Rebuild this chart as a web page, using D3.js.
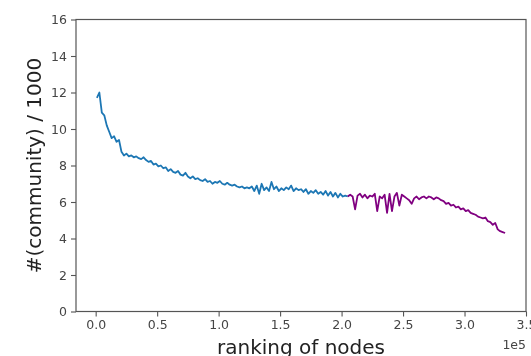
<!DOCTYPE html>
<html>
<head>
<meta charset="utf-8">
<script src="https://cdn.jsdelivr.net/npm/d3@7"></script>
<style>
  body { margin: 0; background: #fff; }
  svg { display: block; font-family: "DejaVu Sans", sans-serif; }
</style>
</head>
<body>
<div class="chart"></div>
<script>
// ranking of nodes, sampled every 2000
const rankStep = 2000;
const blueStart = 1000;
const purpleStart = 205000;

// #(community)/1000, top-ranked part
const blueValues = [
  11.7, 12.0, 10.9, 10.75, 10.2, 9.85, 9.5, 9.6, 9.3, 9.4,
  8.75, 8.55, 8.65, 8.5, 8.55, 8.45, 8.5, 8.4, 8.35, 8.45,
  8.3, 8.2, 8.25, 8.05, 8.1, 7.95, 8.0, 7.85, 7.9, 7.7,
  7.8, 7.65, 7.6, 7.7, 7.5, 7.45, 7.6, 7.4, 7.3, 7.4,
  7.25, 7.3, 7.2, 7.15, 7.25, 7.1, 7.15, 7.0, 7.1, 7.05,
  7.15, 7.0, 6.95, 7.05, 6.95, 6.9, 6.95, 6.85, 6.8, 6.85,
  6.75, 6.8, 6.75, 6.85, 6.6, 6.9, 6.45, 7.0, 6.65, 6.8,
  6.6, 7.1, 6.7, 6.85, 6.6, 6.75, 6.65, 6.8, 6.7, 6.9,
  6.6, 6.75, 6.65, 6.7, 6.55, 6.7, 6.45, 6.6, 6.5, 6.65,
  6.45, 6.55, 6.4, 6.6, 6.35, 6.55, 6.3, 6.5, 6.25, 6.45,
  6.3, 6.35, 6.3
];

// tail part
const purpleValues = [
  6.3, 6.4, 6.3, 5.6, 6.35, 6.45, 6.25, 6.4, 6.2, 6.35,
  6.3, 6.45, 5.5, 6.3, 6.2, 6.4, 5.4, 6.45, 5.5, 6.3,
  6.5, 5.8, 6.4, 6.3, 6.2, 6.1, 5.9, 6.2, 6.3, 6.15,
  6.25, 6.3, 6.2, 6.3, 6.25, 6.15, 6.25, 6.2, 6.1, 6.05,
  5.9, 5.95, 5.8, 5.85, 5.7, 5.75, 5.6, 5.65, 5.5, 5.55,
  5.4, 5.35, 5.3, 5.2, 5.15, 5.1, 5.15, 4.95, 4.9, 4.75,
  4.85, 4.5, 4.4, 4.35, 4.3
];

const xTicks = [0, 50000, 100000, 150000, 200000, 250000, 300000, 350000];
const yTicks = [0, 2, 4, 6, 8, 10, 12, 14, 16];

const width = 531;
const height = 356;
const margin = { top: 19.5, right: 5, bottom: 44.5, left: 76 };

const blueData = blueValues.map((v, i) => ({ x: blueStart + i * rankStep, y: v }));
const purpleData = purpleValues.map((v, i) => ({ x: purpleStart + i * rankStep, y: v }));

const xScale = d3.scaleLinear()
    .domain([-16000, 350000])
    .range([margin.left, width - margin.right]);

const yScale = d3.scaleLinear()
    .domain([0, 16])
    .range([height - margin.bottom, margin.top]);

const svg = d3.select('.chart')
    .append('svg')
    .attr('width', width)
    .attr('height', height);

// the reference is a slightly soft screenshot
svg.append('defs')
    .append('filter')
    .attr('id', 'soft')
    .append('feGaussianBlur')
    .attr('stdDeviation', 0.45);

const g = svg.append('g').attr('filter', 'url(#soft)');

const line = d3.line()
    .x(d => xScale(d.x))
    .y(d => yScale(d.y));

g.append('path')
    .datum(blueData)
    .attr('fill', 'none')
    .attr('stroke', '#1f77b4')
    .attr('stroke-width', 1.8)
    .attr('stroke-linejoin', 'round')
    .attr('d', line);

g.append('path')
    .datum(purpleData)
    .attr('fill', 'none')
    .attr('stroke', '#800080')
    .attr('stroke-width', 1.8)
    .attr('stroke-linejoin', 'round')
    .attr('d', line);

// axes
const xAxis = g.append('g')
    .attr('transform', `translate(0, ${height - margin.bottom})`)
    .call(d3.axisBottom(xScale)
        .tickValues(xTicks)
        .tickSizeOuter(0)
        .tickSize(5)
        .tickPadding(4)
        .tickFormat(d => (d / 1e5).toFixed(1)));

const yAxis = g.append('g')
    .attr('transform', `translate(${margin.left}, 0)`)
    .call(d3.axisLeft(yScale)
        .tickValues(yTicks)
        .tickSizeOuter(0)
        .tickSize(5)
        .tickPadding(4));

[xAxis, yAxis].forEach(ax => {
    ax.select('.domain').remove();
    ax.selectAll('line').attr('stroke', '#555').attr('stroke-width', 1.1);
    ax.selectAll('text')
        .attr('fill', '#444')
        .style('font-size', '12.5px')
        .style('font-family', '"DejaVu Sans", sans-serif');
});

// frame
g.append('rect')
    .attr('x', margin.left)
    .attr('y', margin.top)
    .attr('width', width - margin.right - margin.left)
    .attr('height', height - margin.bottom - margin.top)
    .attr('fill', 'none')
    .attr('stroke', '#555')
    .attr('stroke-width', 1.2);

// offset text
g.append('text')
    .attr('x', width - margin.right)
    .attr('y', 349)
    .attr('text-anchor', 'end')
    .attr('fill', '#444')
    .style('font-size', '12.5px')
    .text('1e5');

g.append('text')
    .attr('x', (margin.left + width - margin.right) / 2)
    .attr('y', 354)
    .attr('text-anchor', 'middle')
    .attr('fill', '#222')
    .style('font-size', '20px')
    .text('ranking of nodes');

g.append('text')
    .attr('transform', 'rotate(-90)')
    .attr('x', -(margin.top + height - margin.bottom) / 2)
    .attr('y', 41)
    .attr('text-anchor', 'middle')
    .attr('fill', '#222')
    .style('font-size', '20px')
    .text('#(community) / 1000');
</script>
</body>
</html>
